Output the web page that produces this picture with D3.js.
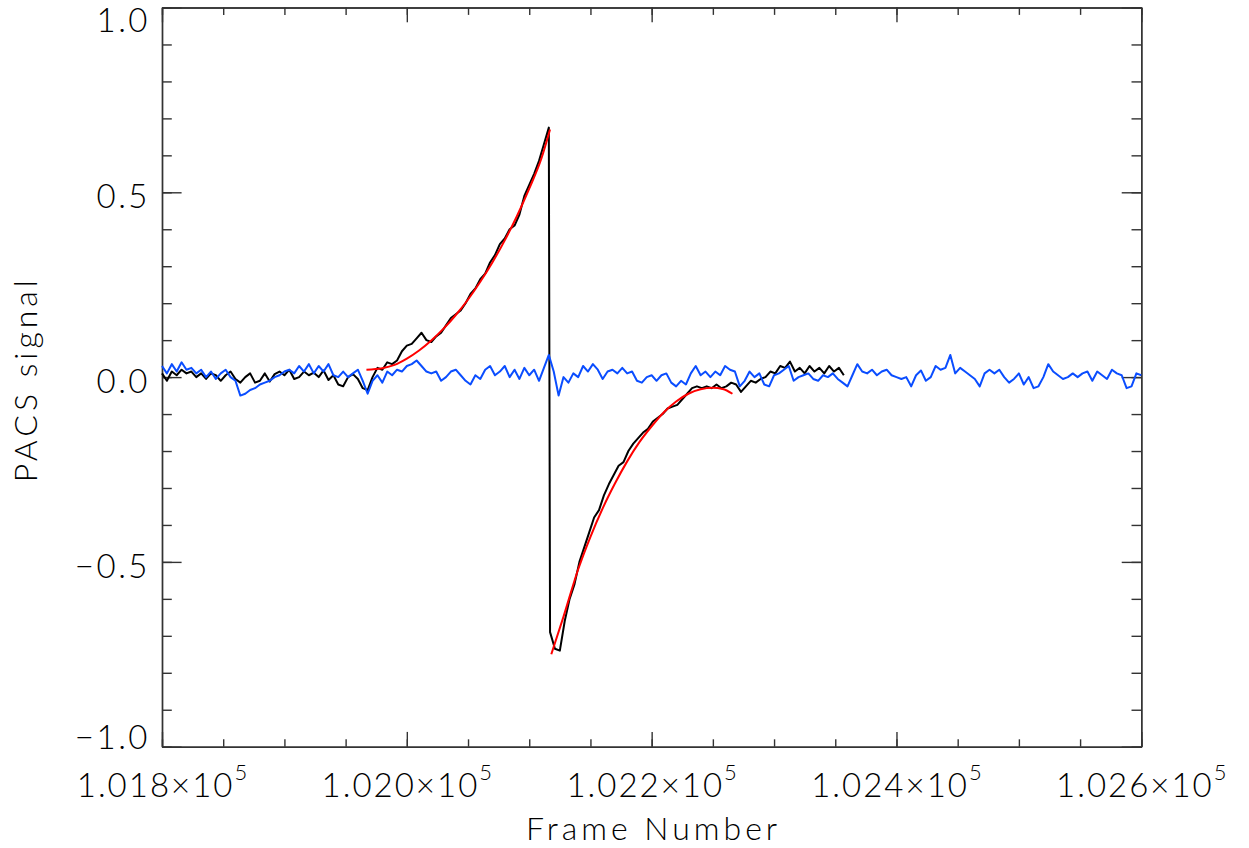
<!DOCTYPE html>
<html><head><meta charset="utf-8">
<script src="https://cdn.jsdelivr.net/npm/d3@7"></script>
<style>
html,body{margin:0;padding:0;background:#fff;}
text{font-family:"Lato","DejaVu Sans",sans-serif;font-weight:300;fill:#000;}
</style></head>
<body>
<svg id="chart" width="1249" height="848"></svg>
<script>
// ---- data ----
const xMajorTicks = [101800, 102000, 102200, 102400, 102600];
const yMajorTicks = [-1.0, -0.5, 0.0, 0.5, 1.0];
const yTickLabels = ["\u22121.0", "\u22120.5", "0.0", "0.5", "1.0"];
const xLabel = "Frame Number";
const yLabel = "PACS signal";

// black: detector signal (frames every 4 from 101800 to 102116, then from 102117)
const blackValuesA = [
  0.010,-0.010,0.015,0.005,0.020,0.010,0.015,0.000,0.010,-0.005,
  0.010,0.005,-0.010,0.005,0.015,-0.005,-0.015,0.000,0.010,-0.015,
  -0.010,0.010,-0.012,0.008,0.015,0.005,0.020,-0.005,0.000,0.015,
  0.005,0.012,0.000,0.018,-0.008,0.005,-0.020,-0.025,0.000,0.008,
  -0.005,-0.030,-0.035,0.000,0.025,0.020,0.040,0.035,0.045,0.070,
  0.085,0.090,0.105,0.120,0.100,0.095,0.110,0.120,0.140,0.160,
  0.170,0.180,0.200,0.225,0.240,0.265,0.280,0.310,0.330,0.360,
  0.375,0.400,0.410,0.440,0.490,0.520,0.550,0.585,0.630,0.675
];
const blackValuesB = [
  -0.690,-0.735,-0.740,-0.660,-0.600,-0.560,-0.500,-0.460,-0.420,-0.380,
  -0.360,-0.320,-0.290,-0.265,-0.240,-0.230,-0.200,-0.180,-0.165,-0.150,
  -0.140,-0.120,-0.110,-0.100,-0.085,-0.080,-0.075,-0.060,-0.045,-0.030,
  -0.025,-0.030,-0.025,-0.030,-0.020,-0.030,-0.025,-0.015,-0.020,-0.040,
  -0.025,-0.010,-0.015,-0.005,0.000,0.015,0.010,0.030,0.025,0.042,
  0.015,0.025,0.010,0.030,0.015,0.025,0.010,0.030,0.015,0.025,0.005
];
// blue: reference pixel (frames every 4 from 101800 to 102600)
const blueValues = [
  0.030,0.010,0.035,0.015,0.040,0.020,0.025,0.010,0.020,0.000,
  0.015,-0.005,0.010,0.020,0.000,-0.010,-0.050,-0.045,-0.035,-0.030,
  -0.020,-0.015,-0.010,0.000,0.005,0.015,0.020,0.010,0.030,0.015,
  0.035,0.010,0.030,0.015,0.035,0.005,0.000,0.015,0.000,0.010,
  0.020,-0.010,-0.045,-0.010,0.005,-0.015,0.015,0.005,0.020,0.015,
  0.030,0.035,0.045,0.030,0.015,0.010,0.015,-0.010,0.000,0.015,
  0.020,0.005,-0.010,-0.020,0.005,-0.005,0.020,0.030,0.005,0.015,
  0.030,0.000,0.020,-0.005,0.025,0.005,0.020,-0.010,0.025,0.060,
  0.015,-0.050,0.000,-0.015,0.010,0.000,0.030,0.015,0.035,0.020,
  -0.005,0.015,0.020,0.010,0.025,0.010,0.015,-0.010,-0.015,0.000,
  0.005,-0.010,0.005,0.010,-0.015,-0.025,-0.010,-0.020,0.010,0.030,
  0.005,0.015,0.000,0.015,0.005,0.030,0.020,0.015,-0.025,-0.010,
  0.015,0.000,0.010,-0.020,-0.025,0.005,0.010,0.020,0.030,-0.010,
  0.000,0.005,0.010,-0.005,-0.010,0.005,0.000,0.010,-0.005,-0.015,
  -0.025,0.005,0.035,0.015,0.010,0.020,0.005,0.015,0.020,0.005,
  0.000,-0.005,0.000,-0.025,0.005,0.018,-0.010,0.000,0.030,0.020,
  0.025,0.060,0.010,0.025,0.015,0.005,-0.005,-0.025,0.010,0.020,
  0.010,0.020,0.000,-0.015,-0.005,0.010,-0.020,0.000,-0.030,-0.025,
  0.000,0.035,0.015,0.005,-0.005,0.000,0.010,0.000,0.010,0.015,
  -0.010,0.015,0.005,-0.005,0.020,0.010,0.005,-0.030,-0.025,0.010,
  0.005
];
// red: fitted curves
const fitRiseFrames = [101967,101980,101990,102000,102010,102020,102030,102040,102050,102060,102070,102080,102090,102100,102110,102117];
const fitRiseValues = [0.020,0.024,0.033,0.050,0.072,0.099,0.131,0.168,0.210,0.258,0.311,0.370,0.436,0.510,0.592,0.670];
const fitDecayFrames = [102118,102128,102140,102150,102160,102170,102180,102190,102200,102210,102220,102230,102240,102250,102258,102266];
const fitDecayValues = [-0.750,-0.648,-0.520,-0.432,-0.355,-0.288,-0.228,-0.176,-0.133,-0.095,-0.066,-0.045,-0.033,-0.029,-0.032,-0.045];

// ---- build series ----
const blackFrames = d3.range(101800, 102120, 4).concat(d3.range(102117, 102361, 4));
const blackValues = blackValuesA.concat(blackValuesB);
const blackData = blackFrames.map((f, i) => [f, blackValues[i]]);
const blueData = d3.range(101800, 102601, 4).map((f, i) => [f, blueValues[i]]);
const fitRise = fitRiseFrames.map((f, i) => [f, fitRiseValues[i]]);
const fitDecay = fitDecayFrames.map((f, i) => [f, fitDecayValues[i]]);

// ---- layout ----
const L = 162, R = 1141.3, T = 7.5, B = 746.7;
const svg = d3.select("#chart");
const x = d3.scaleLinear().domain([101800, 102600]).range([L, R]);
const y = d3.scaleLinear().domain([-1, 1]).range([B, T]);

const xMinor = d3.range(101800, 102601, 50);
const yMinor = d3.range(-10, 11).map(v => v / 10);
const majX = (B - T) * 0.02, majY = (R - L) * 0.02;
const axisColor = "#333";

function styleAxis(g) {
  g.selectAll("path,line").attr("stroke", axisColor).attr("stroke-width", 1.4);
  g.selectAll("text").remove();
}
// minor ticks
svg.append("g").attr("transform", `translate(0,${B})`)
  .call(d3.axisBottom(x).tickValues(xMinor).tickSizeInner(-majX / 2).tickSizeOuter(0).tickFormat("")).call(styleAxis);
svg.append("g").attr("transform", `translate(0,${T})`)
  .call(d3.axisTop(x).tickValues(xMinor).tickSizeInner(-majX / 2).tickSizeOuter(0).tickFormat("")).call(styleAxis);
svg.append("g").attr("transform", `translate(${L},0)`)
  .call(d3.axisLeft(y).tickValues(yMinor).tickSizeInner(-majY / 2).tickSizeOuter(0).tickFormat("")).call(styleAxis);
svg.append("g").attr("transform", `translate(${R},0)`)
  .call(d3.axisRight(y).tickValues(yMinor).tickSizeInner(-majY / 2).tickSizeOuter(0).tickFormat("")).call(styleAxis);
// major ticks
svg.append("g").attr("transform", `translate(0,${B})`)
  .call(d3.axisBottom(x).tickValues(xMajorTicks).tickSizeInner(-majX).tickSizeOuter(0).tickFormat("")).call(styleAxis);
svg.append("g").attr("transform", `translate(0,${T})`)
  .call(d3.axisTop(x).tickValues(xMajorTicks).tickSizeInner(-majX).tickSizeOuter(0).tickFormat("")).call(styleAxis);
svg.append("g").attr("transform", `translate(${L},0)`)
  .call(d3.axisLeft(y).tickValues(yMajorTicks).tickSizeInner(-majY).tickSizeOuter(0).tickFormat("")).call(styleAxis);
svg.append("g").attr("transform", `translate(${R},0)`)
  .call(d3.axisRight(y).tickValues(yMajorTicks).tickSizeInner(-majY).tickSizeOuter(0).tickFormat("")).call(styleAxis);

// ---- lines ----
const line = d3.line().x(d => x(d[0])).y(d => y(d[1]));
const smooth = d3.line().x(d => x(d[0])).y(d => y(d[1])).curve(d3.curveMonotoneX);
svg.append("path").datum(blackData).attr("d", line)
  .attr("fill", "none").attr("stroke", "#000").attr("stroke-width", 2).attr("stroke-linejoin", "round");
svg.append("path").datum(blueData).attr("d", line)
  .attr("fill", "none").attr("stroke", "#0a4dff").attr("stroke-width", 2).attr("stroke-linejoin", "round");
[fitRise, fitDecay].forEach(d => {
  svg.append("path").datum(d).attr("d", smooth)
    .attr("fill", "none").attr("stroke", "#ff0000").attr("stroke-width", 2);
});

// ---- tick labels ----
const yLabOffset = v => (v === 1 ? 24 : v === -1 ? 2 : 16);
svg.append("g").selectAll("text").data(yMajorTicks).join("text")
  .attr("x", 150).attr("y", d => y(d) + yLabOffset(d))
  .attr("text-anchor", "end").attr("letter-spacing", 2.5)
  .attr("font-size", 33).text((d, i) => yTickLabels[i]);

const xl = svg.append("g").selectAll("text").data(xMajorTicks).join("text")
  .attr("x", d => x(d) + 1).attr("y", 797)
  .attr("text-anchor", "middle").attr("font-size", 33).attr("letter-spacing", 2);
xl.append("tspan").text(d => (d / 1e5).toFixed(3) + "\u00d710");
xl.append("tspan").attr("dy", -17).attr("font-size", 22).text("5");

svg.append("text").attr("x", (L + R) / 2 + 2).attr("y", 840)
  .attr("text-anchor", "middle").attr("font-size", 32).attr("letter-spacing", 4).text(xLabel);
svg.append("text").attr("transform", `translate(37,${(T + B) / 2 + 2}) rotate(-90)`)
  .attr("text-anchor", "middle").attr("font-size", 32).attr("letter-spacing", 4).text(yLabel);
</script>
</body></html>
